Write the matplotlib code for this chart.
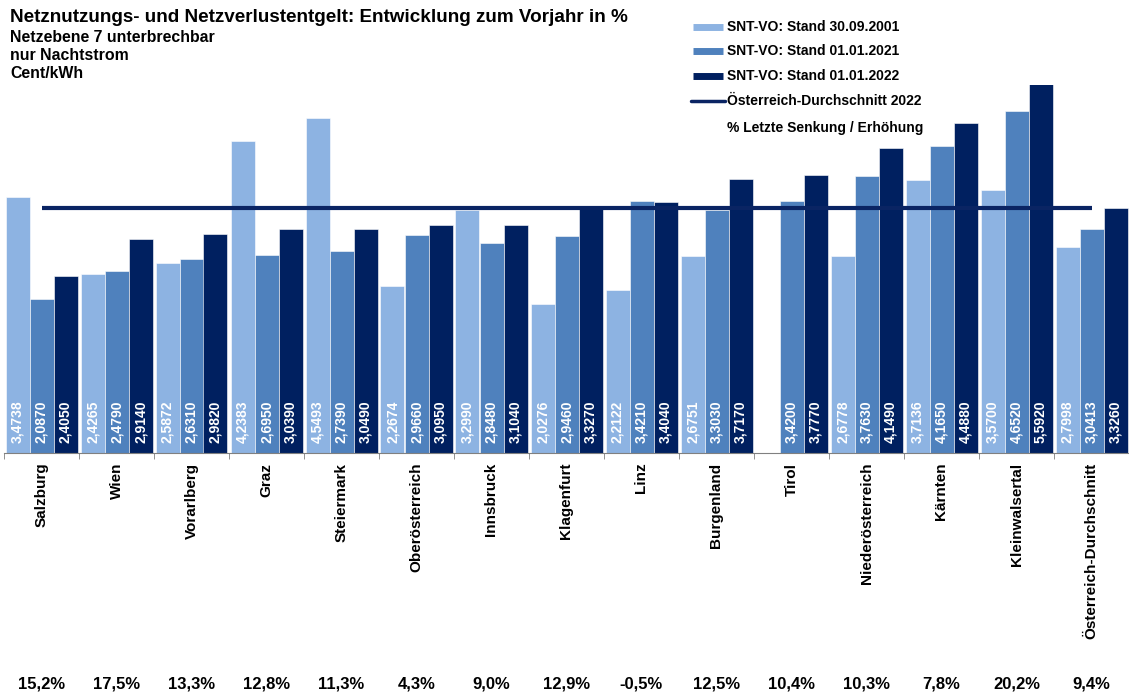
import matplotlib
matplotlib.use("Agg")
import matplotlib.pyplot as plt
from matplotlib.lines import Line2D
from matplotlib.transforms import blended_transform_factory
import numpy as np

plt.rcParams['font.family'] = ['Liberation Sans', 'DejaVu Sans']

categories = ["Salzburg", "Wien", "Vorarlberg", "Graz", "Steiermark", "Oberösterreich",
              "Innsbruck", "Klagenfurt", "Linz", "Burgenland", "Tirol", "Niederösterreich",
              "Kärnten", "Kleinwalsertal", "Österreich-Durchschnitt"]
s2001 = [3.4738, 2.4265, 2.5872, 4.2383, 4.5493, 2.2674, 3.2990, 2.0276, 2.2122, 2.6751,
         np.nan, 2.6778, 3.7136, 3.5700, 2.7998]
s2021 = [2.0870, 2.4790, 2.6310, 2.6950, 2.7390, 2.9660, 2.8480, 2.9460, 3.4210, 3.3030,
         3.4200, 3.7630, 4.1650, 4.6520, 3.0413]
s2022 = [2.4050, 2.9140, 2.9820, 3.0390, 3.0490, 3.0950, 3.1040, 3.3270, 3.4040, 3.7170,
         3.7770, 4.1490, 4.4880, 5.5920, 3.3260]
pct_labels = ["15,2%", "17,5%", "13,3%", "12,8%", "11,3%", "4,3%", "9,0%", "12,9%", "-0,5%",
              "12,5%", "10,4%", "10,3%", "7,8%", "20,2%", "9,4%"]
avg_2022 = 3.326
series_names = ["SNT-VO: Stand 30.09.2001", "SNT-VO: Stand 01.01.2021", "SNT-VO: Stand 01.01.2022"]
line_name = "Österreich-Durchschnitt 2022"
extra_name = "% Letzte Senkung / Erhöhung"
title = "Netznutzungs- und Netzverlustentgelt: Entwicklung zum Vorjahr in %"
subtitles = ["Netzebene 7 unterbrechbar", "nur Nachtstrom", "Cent/kWh"]

colors = ["#8DB3E2", "#4F81BD", "#002060"]
line_color = "#0A2463"

W, H = 1129, 695
fig = plt.figure(figsize=(W / 100, H / 100), dpi=100)
ax = fig.add_axes([4 / W, 1 - 453 / H, 1125 / W, 368 / H])

x = np.arange(len(categories))
bw = 0.32
for i, (vals, c) in enumerate(zip([s2001, s2021, s2022], colors)):
    pos = x + (i - 1) * bw
    ax.bar(pos, vals, width=bw, color=c, edgecolor="white", linewidth=0.4, zorder=2)
    for p, v in zip(pos, vals):
        if np.isnan(v):
            continue
        ax.annotate(f"{v:.4f}".replace(".", ","), xy=(p, 0), xytext=(0, 7),
                    textcoords="offset points", rotation=90, ha="center", va="bottom",
                    color="white", fontsize=10, fontweight="bold", zorder=4)

ax.plot([x[0], x[-1]], [avg_2022, avg_2022], color=line_color, lw=3,
        solid_capstyle="butt", zorder=3)

ax.set_xlim(-0.5, len(categories) - 0.5)
ax.set_ylim(0, 5)
for s in ["top", "right", "left"]:
    ax.spines[s].set_visible(False)
ax.spines["bottom"].set_color("#808080")
ax.set_yticks([])
ax.set_xticks(x)
ax.set_xticklabels(categories, rotation=90, fontweight="bold", fontsize=11, va="top")
ax.tick_params(axis="x", which="major", length=0, pad=7)
ax.set_xticks(np.arange(-0.5, len(categories), 1), minor=True)
ax.tick_params(axis="x", which="minor", length=4, color="#808080", direction="out")

trans = blended_transform_factory(ax.transData, fig.transFigure)
for xi, t in zip(x, pct_labels):
    ax.text(xi, 1 - 684 / H, t, transform=trans, ha="center", va="center",
            fontsize=12, fontweight="bold", clip_on=False)

fig.text(10 / W, 1 - 18 / H, title, fontsize=13.6, fontweight="bold", va="center", ha="left")
for k, st in enumerate(subtitles):
    fig.text(10 / W, 1 - (37 + 18 * k) / H, st, fontsize=11.4, fontweight="bold",
             va="center", ha="left")

# legend (manual)
leg_y = [27, 51, 76, 101, 128]
hx0, hx1, tx = 693 / W, 723 / W, 727 / W
for k, (name, c) in enumerate(zip(series_names, colors)):
    yy = 1 - leg_y[k] / H
    fig.add_artist(Line2D([hx0, hx1], [yy, yy], color=c, lw=5, solid_capstyle="butt",
                          transform=fig.transFigure))
    fig.text(tx, yy, name, fontsize=10, fontweight="bold", va="center", ha="left")
yy = 1 - leg_y[3] / H
fig.add_artist(Line2D([691 / W, 725 / W], [yy, yy], color=line_color, lw=2.5,
                      solid_capstyle="round", transform=fig.transFigure))
fig.text(tx, yy, line_name, fontsize=10, fontweight="bold", va="center", ha="left")
fig.text(tx, 1 - leg_y[4] / H, extra_name, fontsize=10, fontweight="bold", va="center", ha="left")

fig.savefig("out.png", dpi=100)
